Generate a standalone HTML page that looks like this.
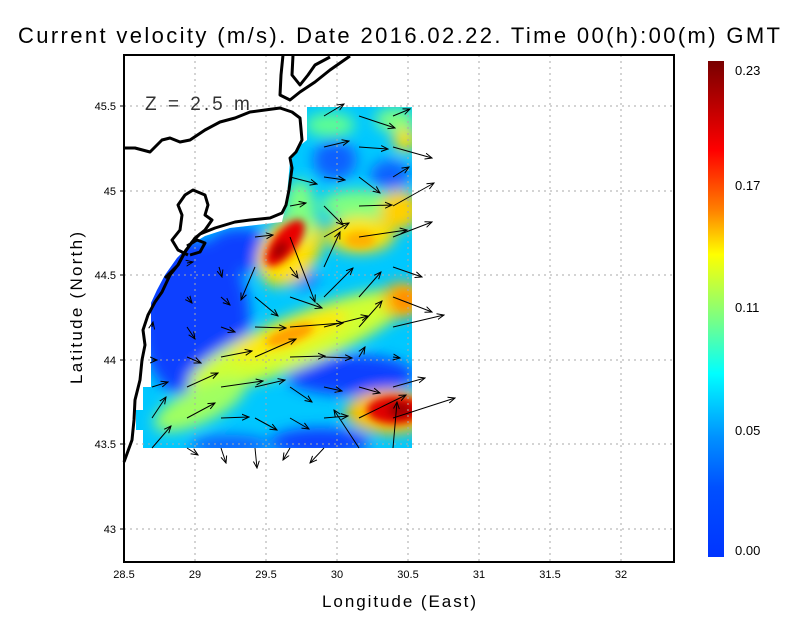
<!DOCTYPE html>
<html><head><style>
html,body{margin:0;padding:0;background:#fff;}
svg text{font-family:"Liberation Sans",sans-serif;}
</style></head><body>
<svg width="800" height="618" viewBox="0 0 800 618" xmlns="http://www.w3.org/2000/svg">
<defs>
<linearGradient id="cb" x1="0" y1="0" x2="0" y2="1">
<stop offset="0" stop-color="#780000"/>
<stop offset="0.18" stop-color="#ff0000"/>
<stop offset="0.30" stop-color="#ff8000"/>
<stop offset="0.39" stop-color="#ffff00"/>
<stop offset="0.52" stop-color="#7aff84"/>
<stop offset="0.63" stop-color="#00ffff"/>
<stop offset="0.76" stop-color="#0090ff"/>
<stop offset="0.86" stop-color="#0050ff"/>
<stop offset="1" stop-color="#0034ff"/>
</linearGradient>
<clipPath id="dc"><path d="M307,107 L412,107 L412,448 L143,448 L143,430 L136,430 L136,410 L143,410 L143,387 L151,387 L151,303 L157,290 L165,275 L177,258 L190,245 L205,236 L230,228 L282,222 L286,205 L290,162 L298,147 L307,140 Z"/></clipPath>
<filter id="bl" x="-50%" y="-50%" width="200%" height="200%"><feGaussianBlur stdDeviation="7"/></filter>
<filter id="bl2" x="-50%" y="-50%" width="200%" height="200%"><feGaussianBlur stdDeviation="4"/></filter>
<marker id="ah" markerWidth="8" markerHeight="8" refX="7" refY="4" orient="auto" markerUnits="userSpaceOnUse"><path d="M0,1 L7,4 L0,7" fill="none" stroke="#000" stroke-width="1"/></marker>
</defs>
<rect width="800" height="618" fill="#fff"/>
<text x="18" y="43" font-size="22" textLength="762" lengthAdjust="spacing" fill="#000">Current velocity (m/s). Date 2016.02.22. Time 00(h):00(m) GMT</text>

<g clip-path="url(#dc)">
<rect x="120" y="100" width="300" height="360" fill="#00c8ff"/>
<g filter="url(#bl)">
<ellipse cx="195" cy="320" rx="55" ry="80" fill="#0a40ff"/>
<ellipse cx="180" cy="300" rx="40" ry="60" fill="#0a40ff"/>
<ellipse cx="175" cy="280" rx="30" ry="40" fill="#0a40ff"/>
<ellipse cx="240" cy="250" rx="35" ry="22" fill="#0a40ff"/>
<ellipse cx="350" cy="375" rx="65" ry="20" fill="#0a40ff"/>
<ellipse cx="320" cy="442" rx="50" ry="14" fill="#0a40ff"/>
<ellipse cx="230" cy="445" rx="40" ry="10" fill="#1060ff"/>
<ellipse cx="335" cy="160" rx="22" ry="20" fill="#1060ff"/>
<ellipse cx="390" cy="175" rx="20" ry="15" fill="#1060ff"/>
<ellipse cx="300" cy="278" rx="18" ry="10" fill="#1060ff"/>
<ellipse cx="330" cy="125" rx="25" ry="12" fill="#60ff90"/>
<ellipse cx="395" cy="120" rx="20" ry="12" fill="#80ff80"/>
<ellipse cx="360" cy="205" rx="40" ry="15" fill="#80ff80"/>
<ellipse cx="300" cy="340" rx="120" ry="26" fill="#d0ff30" transform="rotate(-22 300 340)"/>
<ellipse cx="200" cy="405" rx="50" ry="18" fill="#a0ff60" transform="rotate(-25 200 405)"/>
<ellipse cx="290" cy="335" rx="60" ry="14" fill="#ffe800" transform="rotate(-20 290 335)"/>
<ellipse cx="360" cy="235" rx="35" ry="18" fill="#ffe000"/>
<ellipse cx="400" cy="210" rx="20" ry="20" fill="#ffd000"/>
<ellipse cx="402" cy="300" rx="20" ry="18" fill="#ffb000"/>
<ellipse cx="405" cy="140" rx="12" ry="12" fill="#ffe000"/>
<ellipse cx="290" cy="250" rx="28" ry="40" fill="#ffe000" transform="rotate(35 290 250)"/>
<ellipse cx="390" cy="412" rx="45" ry="22" fill="#ffc000"/>
<ellipse cx="300" cy="210" rx="15" ry="30" fill="#80ff80"/>
</g>
<g filter="url(#bl2)">
<ellipse cx="285" cy="243" rx="12" ry="28" fill="#e80000" transform="rotate(38 285 243)"/>
<ellipse cx="280" cy="250" rx="6" ry="10" fill="#a00000" transform="rotate(38 280 250)"/>
<ellipse cx="395" cy="410" rx="28" ry="14" fill="#e00000"/>
<ellipse cx="400" cy="410" rx="12" ry="8" fill="#a00000"/>
<ellipse cx="290" cy="335" rx="25" ry="8" fill="#ffa000" transform="rotate(-20 290 335)"/>
<ellipse cx="405" cy="300" rx="10" ry="10" fill="#ff9000"/>
<ellipse cx="360" cy="240" rx="15" ry="8" fill="#ffb000"/>
</g>
</g>

<g stroke="#aaa" stroke-width="1" stroke-dasharray="2,4">
<line x1="195" y1="55" x2="195" y2="562"/><line x1="266" y1="55" x2="266" y2="562"/>
<line x1="337" y1="55" x2="337" y2="562"/><line x1="408" y1="55" x2="408" y2="562"/>
<line x1="479" y1="55" x2="479" y2="562"/><line x1="550" y1="55" x2="550" y2="562"/>
<line x1="621" y1="55" x2="621" y2="562"/>
<line x1="124" y1="106" x2="674" y2="106"/><line x1="124" y1="191" x2="674" y2="191"/>
<line x1="124" y1="275" x2="674" y2="275"/><line x1="124" y1="360" x2="674" y2="360"/>
<line x1="124" y1="444" x2="674" y2="444"/><line x1="124" y1="529" x2="674" y2="529"/>
</g>

<g fill="none" stroke="#000" stroke-width="3" stroke-linejoin="round">
<path d="M283,55 L281,75 L280,95 L290,100 L300,92 L315,82 L330,70 L350,56"/>
<path d="M293,55 L292,75 L300,85 L308,75 L315,65 L330,57"/>
<path d="M124,148 L135,148 L150,152 L162,140 L170,138 L180,142 L190,140 L205,130 L220,122 L235,118 L250,112 L265,110 L280,108 L292,112 L300,118 L302,140 L296,152 L290,158 L292,168 L289,190 L286,205 L282,213 L270,218 L250,220 L235,222 L215,228 L200,234 L192,242 L185,252 L178,265 L170,275 L162,292 L155,302 L148,315 L143,330 L145,345 L142,360 L140,380 L135,400 L134,420 L132,440 L124,462"/>
<path d="M188,255 L178,250 L172,240 L180,230 L182,215 L178,205 L185,195 L193,190 L205,195 L208,205 L205,215 L212,220 L205,230 L195,238 L190,245 L186,250 L178,265 L165,278"/>
<path d="M187,246 L197,240 L205,243 L200,252 L190,255"/>
</g>
<text x="145" y="110" font-size="19" fill="#333" letter-spacing="3">Z = 2.5 m</text>

<g stroke="#000" stroke-width="1" marker-end="url(#ah)" fill="none">
<line x1="324" y1="116" x2="344" y2="104"/><line x1="359" y1="116" x2="395" y2="128"/><line x1="393" y1="116" x2="410" y2="109"/>
<line x1="324" y1="147" x2="349" y2="141"/><line x1="359" y1="147" x2="388" y2="149"/><line x1="393" y1="147" x2="432" y2="158"/>
<line x1="290" y1="177" x2="317" y2="184"/><line x1="324" y1="177" x2="345" y2="180"/><line x1="359" y1="177" x2="380" y2="193"/><line x1="393" y1="177" x2="409" y2="167"/>
<line x1="290" y1="206" x2="306" y2="203"/><line x1="324" y1="206" x2="343" y2="225"/><line x1="359" y1="206" x2="392" y2="205"/><line x1="393" y1="206" x2="434" y2="183"/>
<line x1="324" y1="237" x2="349" y2="223"/><line x1="359" y1="237" x2="407" y2="230"/><line x1="393" y1="237" x2="432" y2="222"/>
<line x1="255" y1="237" x2="273" y2="235"/><line x1="290" y1="237" x2="315" y2="302"/>
<line x1="324" y1="267" x2="340" y2="232"/><line x1="219" y1="267" x2="222" y2="277"/><line x1="255" y1="267" x2="241" y2="300"/><line x1="290" y1="267" x2="298" y2="278"/>
<line x1="324" y1="297" x2="353" y2="268"/><line x1="359" y1="297" x2="381" y2="272"/><line x1="393" y1="267" x2="422" y2="277"/>
<line x1="187" y1="263" x2="193" y2="262"/><line x1="187" y1="297" x2="192" y2="303"/><line x1="221" y1="297" x2="230" y2="305"/>
<line x1="255" y1="297" x2="278" y2="316"/><line x1="290" y1="297" x2="322" y2="308"/><line x1="324" y1="327" x2="368" y2="316"/>
<line x1="359" y1="327" x2="382" y2="301"/><line x1="393" y1="297" x2="432" y2="312"/>
<line x1="152" y1="327" x2="153" y2="322"/><line x1="187" y1="327" x2="195" y2="339"/><line x1="221" y1="327" x2="235" y2="332"/>
<line x1="255" y1="327" x2="286" y2="328"/><line x1="290" y1="327" x2="343" y2="323"/><line x1="393" y1="327" x2="444" y2="315"/>
<line x1="152" y1="360" x2="157" y2="360"/><line x1="187" y1="357" x2="201" y2="363"/><line x1="221" y1="357" x2="252" y2="351"/>
<line x1="255" y1="357" x2="296" y2="339"/><line x1="290" y1="357" x2="325" y2="356"/><line x1="324" y1="357" x2="352" y2="358"/>
<line x1="359" y1="357" x2="365" y2="347"/><line x1="393" y1="357" x2="400" y2="358"/>
<line x1="152" y1="387" x2="168" y2="382"/><line x1="187" y1="387" x2="218" y2="373"/><line x1="221" y1="387" x2="263" y2="381"/>
<line x1="255" y1="387" x2="285" y2="380"/><line x1="290" y1="387" x2="312" y2="402"/><line x1="324" y1="387" x2="342" y2="391"/>
<line x1="359" y1="387" x2="380" y2="393"/><line x1="393" y1="387" x2="425" y2="378"/>
<line x1="152" y1="418" x2="166" y2="397"/><line x1="187" y1="418" x2="215" y2="403"/><line x1="221" y1="418" x2="249" y2="417"/>
<line x1="255" y1="418" x2="277" y2="430"/><line x1="290" y1="418" x2="309" y2="429"/><line x1="324" y1="418" x2="348" y2="416"/>
<line x1="359" y1="418" x2="406" y2="395"/><line x1="393" y1="418" x2="455" y2="398"/>
<line x1="359" y1="448" x2="334" y2="410"/><line x1="393" y1="448" x2="397" y2="402"/><line x1="152" y1="448" x2="171" y2="426"/>
<line x1="187" y1="448" x2="198" y2="455"/><line x1="221" y1="448" x2="226" y2="463"/><line x1="255" y1="448" x2="257" y2="468"/>
<line x1="290" y1="448" x2="283" y2="460"/><line x1="324" y1="448" x2="310" y2="463"/>
</g>

<rect x="124" y="55" width="550" height="507" fill="none" stroke="#000" stroke-width="2"/>
<g stroke="#000" stroke-width="1">
<line x1="124" y1="106" x2="120" y2="106"/><line x1="124" y1="191" x2="120" y2="191"/><line x1="124" y1="275" x2="120" y2="275"/>
<line x1="124" y1="360" x2="120" y2="360"/><line x1="124" y1="444" x2="120" y2="444"/><line x1="124" y1="529" x2="120" y2="529"/>
</g>
<g font-size="11" fill="#000" text-anchor="middle">
<text x="124" y="578">28.5</text><text x="195" y="578">29</text><text x="266" y="578">29.5</text><text x="337" y="578">30</text>
<text x="408" y="578">30.5</text><text x="479" y="578">31</text><text x="550" y="578">31.5</text><text x="621" y="578">32</text>
</g>
<g font-size="11" fill="#000" text-anchor="end">
<text x="116" y="110">45.5</text><text x="116" y="195">45</text><text x="116" y="279">44.5</text>
<text x="116" y="364">44</text><text x="116" y="448">43.5</text><text x="116" y="533">43</text>
</g>
<text x="322" y="607" font-size="17" textLength="154" lengthAdjust="spacing" fill="#000">Longitude (East)</text>
<text transform="translate(82 384) rotate(-90)" font-size="17" textLength="152" lengthAdjust="spacing" fill="#000">Latitude (North)</text>

<rect x="708" y="61" width="16" height="496" fill="url(#cb)"/>
<g font-size="13" fill="#000">
<text x="735" y="75">0.23</text><text x="735" y="190">0.17</text><text x="735" y="312">0.11</text>
<text x="735" y="435">0.05</text><text x="735" y="555">0.00</text>
</g>
</svg>
</body></html>
